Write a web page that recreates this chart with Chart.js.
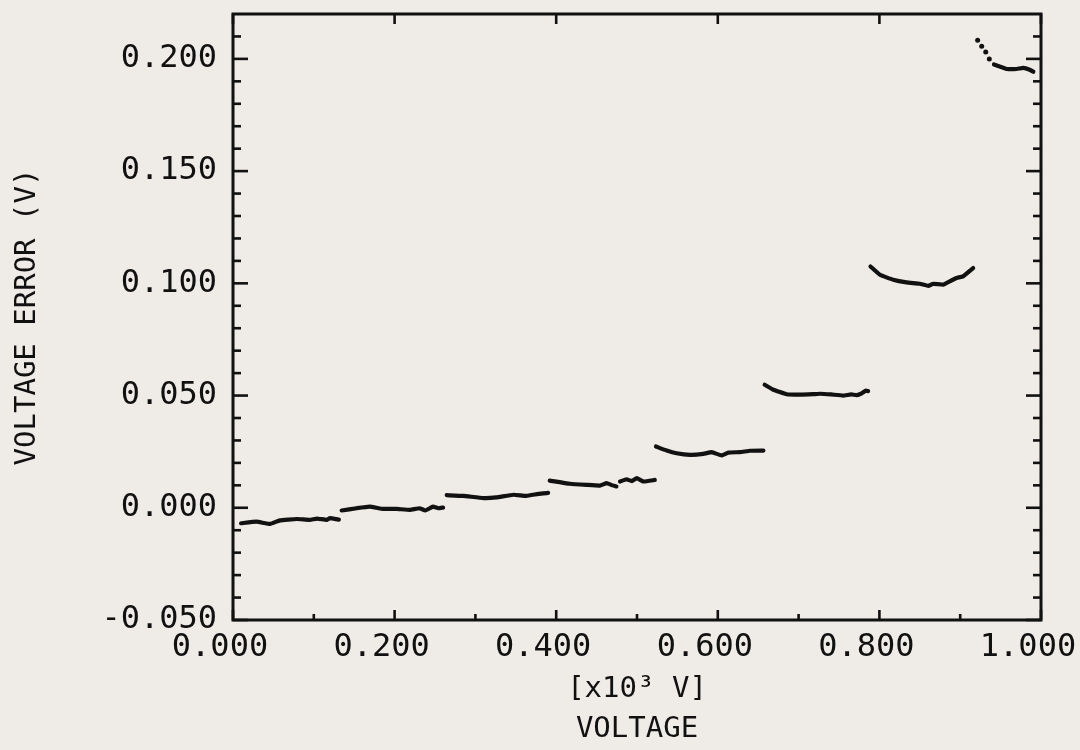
<!DOCTYPE html>
<html>
<head>
<meta charset="utf-8">
<script src="https://cdn.jsdelivr.net/npm/chart.js@4.4.1/dist/chart.umd.min.js"></script>
<style>
  html, body { margin: 0; padding: 0; background: #efebe6; }
  #wrap { width: 1080px; height: 750px; }
</style>
</head>
<body>
<div id="wrap"><canvas id="c" width="1080" height="750"></canvas></div>
<script>
// ---- Data (x in 10^3 V, y in V) ----
const seg1X = [0.010, 0.029, 0.046, 0.058, 0.079, 0.095, 0.104, 0.116, 0.120, 0.131];
const seg1Y = [-0.0069, -0.0062, -0.0072, -0.0056, -0.0050, -0.0054, -0.0048, -0.0054, -0.0046, -0.0053];

const seg2X = [0.1345, 0.153, 0.169, 0.186, 0.202, 0.219, 0.231, 0.238, 0.2475, 0.254, 0.260];
const seg2Y = [-0.0012, -0.0002, 0.0005, -0.0005, -0.0005, -0.0009, -0.0002, -0.0012, 0.0005, -0.0002, 0.0001];

const seg3X = [0.2645, 0.285, 0.310, 0.326, 0.347, 0.363, 0.378, 0.390];
const seg3Y = [0.0056, 0.0053, 0.0043, 0.0046, 0.0058, 0.0053, 0.0062, 0.0066];

const seg4X = [0.392, 0.417, 0.4377, 0.454, 0.4625, 0.468, 0.4745];
const seg4Y = [0.0121, 0.0107, 0.0102, 0.0099, 0.0110, 0.0102, 0.0095];

const seg5X = [0.479, 0.487, 0.4935, 0.4996, 0.508, 0.522];
const seg5Y = [0.0117, 0.0127, 0.0119, 0.0132, 0.0117, 0.0124];

const seg6X = [0.5235, 0.5367, 0.549, 0.5656, 0.582, 0.5922, 0.5965, 0.6048, 0.613, 0.6275, 0.640, 0.6564];
const seg6Y = [0.0273, 0.0255, 0.0243, 0.0236, 0.0240, 0.0248, 0.0243, 0.0233, 0.0246, 0.0248, 0.0254, 0.0255];

const seg7X = [0.658, 0.6687, 0.685, 0.7017, 0.718, 0.7265, 0.740, 0.755, 0.765, 0.772, 0.778, 0.783, 0.786];
const seg7Y = [0.0548, 0.0526, 0.0506, 0.0504, 0.0506, 0.0508, 0.0505, 0.0500, 0.0505, 0.0502, 0.0510, 0.0522, 0.0520];

const seg8X = [0.789, 0.8007, 0.817, 0.8335, 0.850, 0.8605, 0.8667, 0.879, 0.887, 0.8956, 0.9035, 0.916];
const seg8Y = [0.1075, 0.1038, 0.1016, 0.1004, 0.0998, 0.0989, 0.0998, 0.0994, 0.1009, 0.1024, 0.1031, 0.1068];

const dotsX = [0.9216, 0.9266, 0.9316, 0.936];
const dotsY = [0.2083, 0.2056, 0.2031, 0.2000];

const seg9X = [0.9418, 0.9505, 0.9575, 0.970, 0.978, 0.986, 0.9905];
const seg9Y = [0.1975, 0.1964, 0.1955, 0.1955, 0.1960, 0.1952, 0.1943];

// ---- Axis ticks ----
const xMajorTicks = [0, 0.2, 0.4, 0.6, 0.8, 1.0];
const xMinorTicks = [0.1, 0.3, 0.5, 0.7, 0.9];
const yMajorTicks = [-0.05, 0, 0.05, 0.10, 0.15, 0.20];
const yMinorTicks = [-0.04, -0.03, -0.02, -0.01, 0.01, 0.02, 0.03, 0.04, 0.06, 0.07, 0.08, 0.09,
                     0.11, 0.12, 0.13, 0.14, 0.16, 0.17, 0.18, 0.19, 0.21];

const INK = '#111111';
const PAPER = '#efebe6';
const FONT = "'DejaVu Sans Mono', monospace";

function pts(xs, ys) { return xs.map((x, i) => ({ x: x, y: ys[i] })); }

const segments = [[seg1X, seg1Y], [seg2X, seg2Y], [seg3X, seg3Y], [seg4X, seg4Y], [seg5X, seg5Y],
                  [seg6X, seg6Y], [seg7X, seg7Y], [seg8X, seg8Y], [seg9X, seg9Y]];

const datasets = segments.map(([xs, ys]) => ({
  data: pts(xs, ys),
  showLine: true,
  borderColor: INK,
  borderWidth: 4.2,
  borderCapStyle: 'round',
  borderJoinStyle: 'round',
  pointRadius: 0,
  tension: 0.1
}));
datasets.push({
  data: pts(dotsX, dotsY),
  showLine: false,
  pointRadius: 2.5,
  pointBackgroundColor: INK,
  pointBorderWidth: 0
});

const framePlugin = {
  id: 'frame',
  beforeDraw(chart) {
    const ctx = chart.ctx;
    ctx.save();
    ctx.fillStyle = PAPER;
    ctx.fillRect(0, 0, chart.width, chart.height);
    ctx.restore();
  },
  afterDraw(chart) {
    const { ctx, chartArea: { left, right, top, bottom }, scales: { x, y } } = chart;
    ctx.save();
    ctx.strokeStyle = INK;
    ctx.lineCap = 'butt';
    ctx.lineWidth = 3;
    ctx.strokeRect(left, top, right - left, bottom - top);
    ctx.lineWidth = 2.6;
    const seg = (x1, y1, x2, y2) => { ctx.beginPath(); ctx.moveTo(x1, y1); ctx.lineTo(x2, y2); ctx.stroke(); };
    yMajorTicks.forEach(v => { const p = y.getPixelForValue(v); seg(left, p, left + 15, p); seg(right, p, right - 15, p); });
    yMinorTicks.forEach(v => { const p = y.getPixelForValue(v); seg(left, p, left + 8, p); seg(right, p, right - 8, p); });
    xMajorTicks.forEach(v => { const p = x.getPixelForValue(v); seg(p, bottom, p, bottom - 10); seg(p, top, p, top + 10); });
    xMinorTicks.forEach(v => { const p = x.getPixelForValue(v); seg(p, bottom, p, bottom - 6); });
    ctx.restore();
  }
};

new Chart(document.getElementById('c'), {
  type: 'scatter',
  data: { datasets: datasets },
  options: {
    responsive: false,
    animation: false,
    devicePixelRatio: 1,
    layout: { padding: { top: 14, right: 39, left: 0, bottom: 0 } },
    plugins: { legend: { display: false }, tooltip: { enabled: false } },
    scales: {
      x: {
        type: 'linear',
        min: 0, max: 1.0,
        grid: { display: false, drawTicks: false },
        border: { display: false },
        ticks: {
          stepSize: 0.2,
          includeBounds: false,
          color: INK,
          padding: 8,
          labelOffset: -13,
          maxRotation: 0,
          autoSkip: false,
          font: { family: FONT, size: 32 },
          callback: v => Number(v).toFixed(3)
        },
        title: {
          display: true,
          text: ['[x10\u00B3 V]', 'VOLTAGE'],
          color: INK,
          font: { family: FONT, size: 29, lineHeight: 1.4 },
          padding: { top: 0, bottom: 0 }
        },
        afterFit(scale) { scale.height = 130; scale.paddingLeft = 0; scale.paddingRight = 0; }
      },
      y: {
        type: 'linear',
        min: -0.05, max: 0.22,
        grid: { display: false, drawTicks: false },
        border: { display: false },
        ticks: {
          stepSize: 0.05,
          includeBounds: false,
          color: INK,
          padding: 16,
          font: { family: FONT, size: 32 },
          callback: v => Number(v).toFixed(3)
        },
        title: {
          display: true,
          text: 'VOLTAGE ERROR (V)',
          color: INK,
          font: { family: FONT, size: 29, lineHeight: 1.2 },
          padding: { top: 10, bottom: 0 }
        },
        afterFit(scale) { scale.width = 233; scale.paddingTop = 0; scale.paddingBottom = 0; }
      }
    }
  },
  plugins: [framePlugin]
});
</script>
</body>
</html>
